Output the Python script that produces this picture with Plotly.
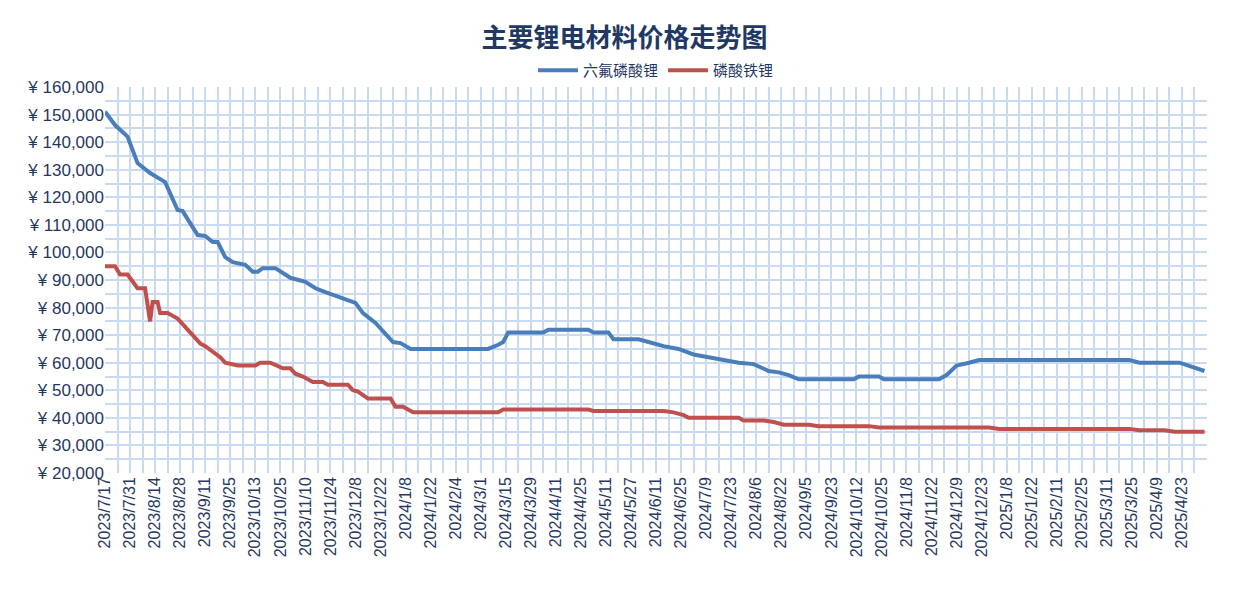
import plotly.graph_objects as go

# category labels shown every 10 trading days
tick_labels = ["2023/7/17", "2023/7/31", "2023/8/14", "2023/8/28", "2023/9/11", "2023/9/25",
               "2023/10/13", "2023/10/25", "2023/11/10", "2023/11/24", "2023/12/8", "2023/12/22",
               "2024/1/8", "2024/1/22", "2024/2/4", "2024/3/1", "2024/3/15", "2024/3/29",
               "2024/4/11", "2024/4/25", "2024/5/11", "2024/5/27", "2024/6/11", "2024/6/25",
               "2024/7/9", "2024/7/23", "2024/8/6", "2024/8/22", "2024/9/5", "2024/9/23",
               "2024/10/12", "2024/10/25", "2024/11/8", "2024/11/22", "2024/12/9", "2024/12/23",
               "2025/1/8", "2025/1/22", "2025/2/11", "2025/2/25", "2025/3/11", "2025/3/25",
               "2025/4/9", "2025/4/23"]

# 六氟磷酸锂 (trading-day index, price)
lipf6_idx = [0, 4, 9, 13, 18, 24, 29, 31, 37, 40, 43, 45, 48, 51, 56, 59, 61, 63, 68, 74, 80,
             84, 88, 94, 100, 103, 108, 115, 118, 122, 153, 157, 159, 161, 175, 177, 193, 195,
             201, 203, 213, 217, 223, 229, 235, 241, 247, 253, 259, 265, 269, 273, 277, 299,
             301, 309, 311, 333, 336, 340, 345, 349, 409, 413, 429, 432, 436, 439]
lipf6_val = [151000, 146200, 142000, 132400, 128800, 125500, 115400, 115000, 106300, 106000,
             103800, 103800, 98300, 96500, 95500, 93000, 93000, 94300, 94300, 90800, 89300,
             87000, 85600, 83500, 81700, 78000, 74400, 67500, 67100, 65000, 65000, 66500,
             67500, 71000, 71000, 72000, 72000, 71000, 71000, 68500, 68500, 67500, 66000,
             65000, 63000, 62000, 61000, 60000, 59500, 57000, 56500, 55500, 54000, 54000,
             55000, 55000, 54000, 54000, 55500, 59000, 60000, 61000, 61000, 60000, 60000,
             59000, 58000, 57000]

# 磷酸铁锂
lfp_idx = [0, 4, 6, 9, 13, 16, 18, 19, 21, 22, 25, 27, 29, 33, 35, 38, 40, 43, 46, 48, 53, 60,
           62, 66, 69, 71, 74, 76, 79, 83, 87, 89, 97, 99, 101, 105, 114, 116, 119, 121, 123,
           157, 159, 193, 195, 223, 227, 231, 233, 253, 255, 263, 267, 271, 281, 285, 305,
           309, 353, 357, 409, 413, 423, 427, 439]
lfp_val = [95000, 95000, 92000, 92000, 87000, 87000, 75000, 82000, 82000, 78000, 78000, 77000,
           76000, 72000, 70000, 67000, 66000, 64000, 62000, 60000, 59000, 59000, 60000, 60000,
           59000, 58000, 58000, 56000, 55000, 53000, 53000, 52000, 52000, 50000, 49500,
           47000, 47000, 44000, 44000, 43000, 42000, 42000, 43000, 43000, 42500, 42500,
           42000, 41000, 40000, 40000, 39000, 39000, 38500, 37500, 37500, 37000, 37000,
           36500, 36500, 36000, 36000, 35500, 35500, 35000, 35000]

navy = "#1F3864"
grid = "#C9DAF0"

fig = go.Figure()
fig.add_trace(go.Scatter(x=lipf6_idx, y=lipf6_val, mode="lines", name="六氟磷酸锂",
                         line=dict(color="#4A7EBB", width=4)))
fig.add_trace(go.Scatter(x=lfp_idx, y=lfp_val, mode="lines", name="磷酸铁锂",
                         line=dict(color="#C0504D", width=4)))

fig.update_layout(
    width=1233, height=602,
    paper_bgcolor="white", plot_bgcolor="white",
    font=dict(family="Noto Sans CJK SC", color=navy),
    title=dict(text="<b>主要锂电材料价格走势图</b>", x=0.5, y=0.95, xanchor="center",
               yanchor="middle", font=dict(size=26, color=navy)),
    legend=dict(orientation="h", x=0.5, xanchor="center", y=1.0, yanchor="bottom",
                font=dict(size=15, color=navy), itemwidth=40),
    margin=dict(l=97, r=34, t=79, b=137),
    showlegend=True,
)
fig.update_xaxes(
    range=[0, 440], tickvals=[i * 10 for i in range(len(tick_labels))], ticktext=tick_labels,
    tickangle=-90, tickfont=dict(size=16, color=navy, family="Liberation Sans"),
    showgrid=True, gridcolor=grid, gridwidth=1.5, zeroline=False, automargin=False,
    minor=dict(dtick=5, tick0=0, showgrid=True, gridcolor=grid, gridwidth=1.5),
    showline=False, ticks="",
)
fig.update_yaxes(
    range=[20000, 160000], dtick=10000, tickformat=",d", tickprefix="¥ ",
    tickfont=dict(size=17, color=navy, family="Liberation Sans"), automargin=False,
    showgrid=True, gridcolor=grid, gridwidth=1.5, zeroline=False,
    minor=dict(dtick=5000, showgrid=True, gridcolor=grid, gridwidth=1.5),
)

fig.write_html("out.html")
